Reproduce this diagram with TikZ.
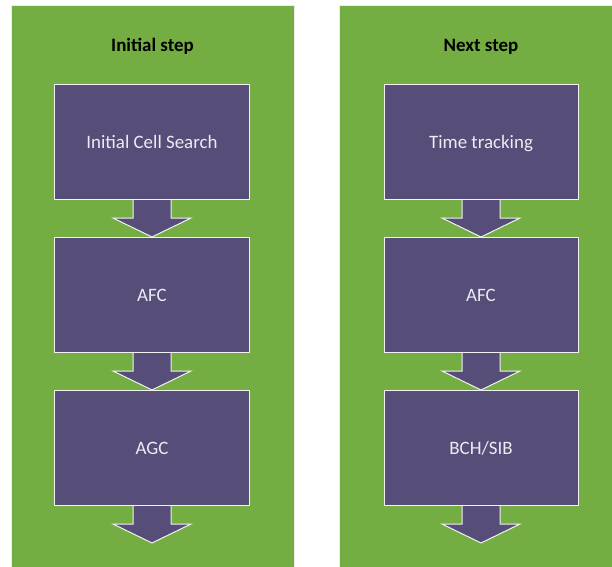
\documentclass[tikz,border=0pt]{standalone}
\usepackage{fontspec}
\setmainfont{Carlito}
\usetikzlibrary{calc}
\definecolor{panelgreen}{RGB}{116,174,67}
\definecolor{boxpurple}{RGB}{86,77,120}
\definecolor{boxtext}{RGB}{236,236,242}
\tikzset{
  x=1bp, y=-1bp,
  panel/.style={fill=panelgreen, draw=white!85!gray, line width=0.8bp, minimum width=283bp, minimum height=570bp, anchor=north west, inner sep=0pt},
  title/.style={font=\fontsize{19}{22}\selectfont\bfseries, text=black, text height=15bp, text depth=2bp},
  stepbox/.style={fill=boxpurple, draw=white!90!gray, line width=1bp, minimum width=194bp, minimum height=115bp, anchor=north, inner sep=0pt, text=boxtext, font=\fontsize{19}{22}\selectfont, text height=15bp, text depth=2bp},
  arrfill/.style={fill=boxpurple},
  arrline/.style={draw=white!90!gray, line width=1bp, line join=miter},
}
% block arrow from the bottom of box #1 to point #2
\newcommand{\blockarrow}[2]{%
  \fill[arrfill] ($(#1.south)+(-19,0)$) |- ($(#2)+(-39,-19)$) -- (#2) -- ($(#2)+(39,-19)$) -| ($(#1.south)+(19,0)$) -- cycle;
  \draw[arrline] ($(#1.south)+(-19,0)$) |- ($(#2)+(-39,-19)$) -- (#2) -- ($(#2)+(39,-19)$) -| ($(#1.south)+(19,0)$);
}
\begin{document}
\begin{tikzpicture}
\useasboundingbox (0,0) rectangle (612,567);
\fill[white] (0,0) rectangle (612,567);

% panels
\node[panel] (pl) at (11,5) {};
\node[panel] (pr) at (339,5) {};

% titles
\node[title] (tl) at (152.5,45) {Initial step};
\node[title] (tr) at (481,45) {Next step};

% left column
\node[stepbox] (l1) at (152,84) {Initial Cell Search};
\node[stepbox] (l2) at (152,237) {AFC};
\node[stepbox] (l3) at (152,390) {AGC};
\coordinate (lend) at (152,543);

% right column
\node[stepbox] (r1) at (481,84) {Time tracking};
\node[stepbox] (r2) at (481,237) {AFC};
\node[stepbox] (r3) at (481,390) {BCH/SIB};
\coordinate (rend) at (481,543);

% block arrows between steps
\blockarrow{l1}{l2.north}
\blockarrow{l2}{l3.north}
\blockarrow{l3}{lend}
\blockarrow{r1}{r2.north}
\blockarrow{r2}{r3.north}
\blockarrow{r3}{rend}
\end{tikzpicture}
\end{document}
